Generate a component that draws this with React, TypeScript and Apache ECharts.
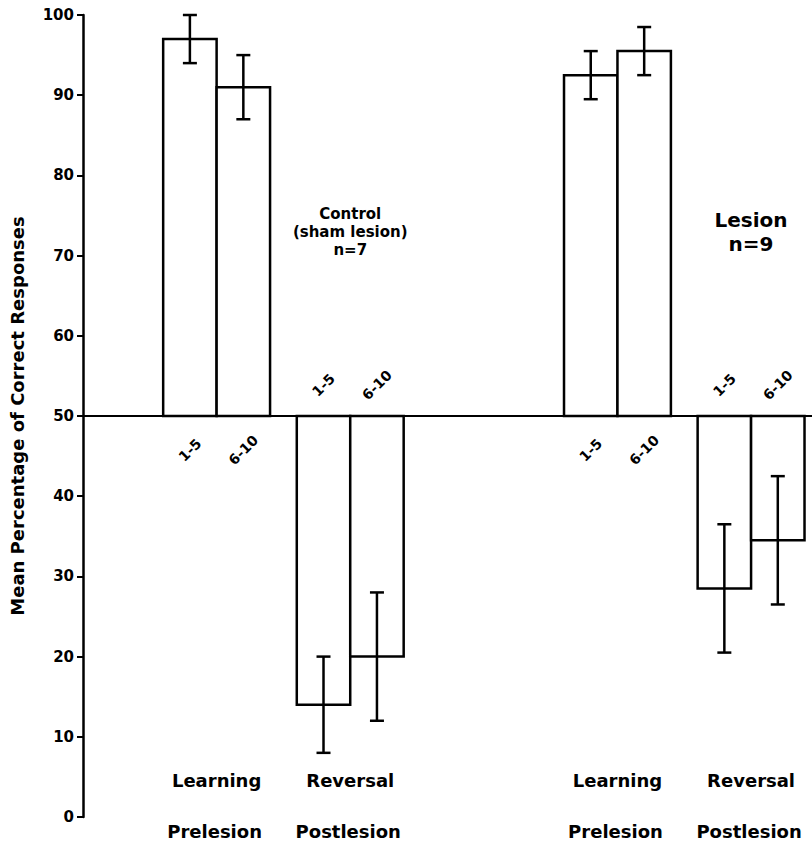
import React, { useEffect, useRef } from "react";
import * as echarts from "echarts";

// ---- data ----
const blockLabels = ["1-5", "6-10"];
const phaseLabels = ["Learning", "Reversal"];
const surgeryLabels = ["Prelesion", "Postlesion"];
const groupLabels = ["Control\n(sham lesion)\nn=7", "Lesion\nn=9"];

// order: Learning 1-5, Learning 6-10, Reversal 1-5, Reversal 6-10
const controlMeans = [97, 91, 14, 20];
const controlErrors = [3, 4, 6, 8];
const lesionMeans = [92.5, 95.5, 28.5, 34.5];
const lesionErrors = [3, 3, 8, 8];

const yMin = 0;
const yMax = 100;
const yStep = 10;
const baseline = 50;

// ---- layout (x in bar-width units) ----
const pairStarts = [
  [1.5, 4],
  [9, 11.5],
];
const xMax = 13.64;
const groupLabelY = 73;

const FONT = "'DejaVu Sans', sans-serif";

export default function App() {
  const ref = useRef<HTMLDivElement>(null);
  useEffect(() => {
    document.body.style.margin = "0";
    if (!ref.current) return;
    const chart = echarts.init(ref.current, undefined, { renderer: "svg" });

    const groupsData = [
      { means: controlMeans, errors: controlErrors },
      { means: lesionMeans, errors: lesionErrors },
    ];
    const barData: number[][] = [];
    const phaseData: number[][] = [];
    const groupData: number[][] = [];
    groupsData.forEach((g, gi) => {
      pairStarts[gi].forEach((start, pi) => {
        blockLabels.forEach((_, bi) => {
          const idx = pi * 2 + bi;
          barData.push([start + bi + 0.5, g.means[idx], g.errors[idx], bi]);
        });
        phaseData.push([start + 1, pi]);
      });
      groupData.push([pairStarts[gi][1] + 1, groupLabelY, gi]);
    });

    const lw = 2.5;

    chart.setOption({
      animation: false,
      grid: { left: 82, right: 0, top: 15, bottom: 34 },
      xAxis: { type: "value", min: 0, max: xMax, show: false },
      yAxis: {
        type: "value",
        min: yMin,
        max: yMax,
        interval: yStep,
        name: "Mean Percentage of Correct Responses",
        nameLocation: "middle",
        nameRotate: 90,
        nameGap: 57,
        nameTextStyle: { fontFamily: FONT, fontWeight: "bold", fontSize: 18, color: "#000" },
        axisLine: { show: true, lineStyle: { color: "#000", width: lw } },
        axisTick: { show: true, length: 6, lineStyle: { color: "#000", width: 2 } },
        axisLabel: { fontFamily: FONT, fontWeight: "bold", fontSize: 15, color: "#000", margin: 9 },
        splitLine: { show: false },
      },
      series: [
        {
          type: "custom",
          data: barData,
          clip: false,
          renderItem: (params: any, api: any) => {
            const x = api.value(0);
            const v = api.value(1);
            const e = api.value(2);
            const b = api.value(3);
            const p0 = api.coord([x - 0.5, baseline]);
            const p1 = api.coord([x + 0.5, v]);
            const c = api.coord([x, baseline]);
            const top = api.coord([x, v + e]);
            const bot = api.coord([x, v - e]);
            const up = v >= baseline;
            const cap = 7;
            const ls = { stroke: "#000", lineWidth: lw };
            return {
              type: "group",
              children: [
                {
                  type: "rect",
                  shape: {
                    x: p0[0],
                    y: Math.min(p0[1], p1[1]),
                    width: p1[0] - p0[0],
                    height: Math.abs(p1[1] - p0[1]),
                  },
                  style: { fill: "#fff", stroke: "#000", lineWidth: lw },
                },
                { type: "line", shape: { x1: top[0], y1: top[1], x2: bot[0], y2: bot[1] }, style: ls },
                { type: "line", shape: { x1: top[0] - cap, y1: top[1], x2: top[0] + cap, y2: top[1] }, style: ls },
                { type: "line", shape: { x1: bot[0] - cap, y1: bot[1], x2: bot[0] + cap, y2: bot[1] }, style: ls },
                {
                  type: "text",
                  x: c[0],
                  y: c[1] + (up ? 34 : -31),
                  rotation: Math.PI / 4,
                  style: {
                    text: blockLabels[b],
                    align: "center",
                    verticalAlign: "middle",
                    fontFamily: FONT,
                    fontWeight: "bold",
                    fontSize: 14,
                    fill: "#000",
                  },
                },
              ],
            };
          },
          markLine: {
            silent: true,
            symbol: "none",
            label: { show: false },
            lineStyle: { color: "#000", width: 2, type: "solid" },
            data: [{ yAxis: baseline }],
          },
          z: 2,
        },
        {
          type: "custom",
          data: phaseData,
          clip: false,
          renderItem: (params: any, api: any) => {
            const x = api.value(0);
            const pi = api.value(1);
            const c = api.coord([x, yMin]);
            const st = { align: "center", verticalAlign: "middle", fontFamily: FONT, fontWeight: "bold", fontSize: 18, fill: "#000" };
            return {
              type: "group",
              children: [
                { type: "text", x: c[0], y: c[1] - 37, style: { ...st, text: phaseLabels[pi] } },
                { type: "text", x: c[0] - 2, y: c[1] + 14, style: { ...st, text: surgeryLabels[pi] } },
              ],
            };
          },
          z: 3,
        },
        {
          type: "custom",
          data: groupData,
          clip: false,
          renderItem: (params: any, api: any) => {
            const x = api.value(0);
            const y = api.value(1);
            const gi = api.value(2);
            const c = api.coord([x, y]);
            return {
              type: "text",
              x: c[0],
              y: c[1],
              style: {
                text: groupLabels[gi],
                align: "center",
                verticalAlign: "middle",
                fontFamily: FONT,
                fontWeight: "bold",
                fontSize: gi === 0 ? 15 : 20,
                lineHeight: gi === 0 ? 18 : 24,
                fill: "#000",
              },
            };
          },
          z: 3,
        },
      ],
    });
    return () => chart.dispose();
  }, []);
  return <div ref={ref} style={{ width: 812, height: 851 }} />;
}
